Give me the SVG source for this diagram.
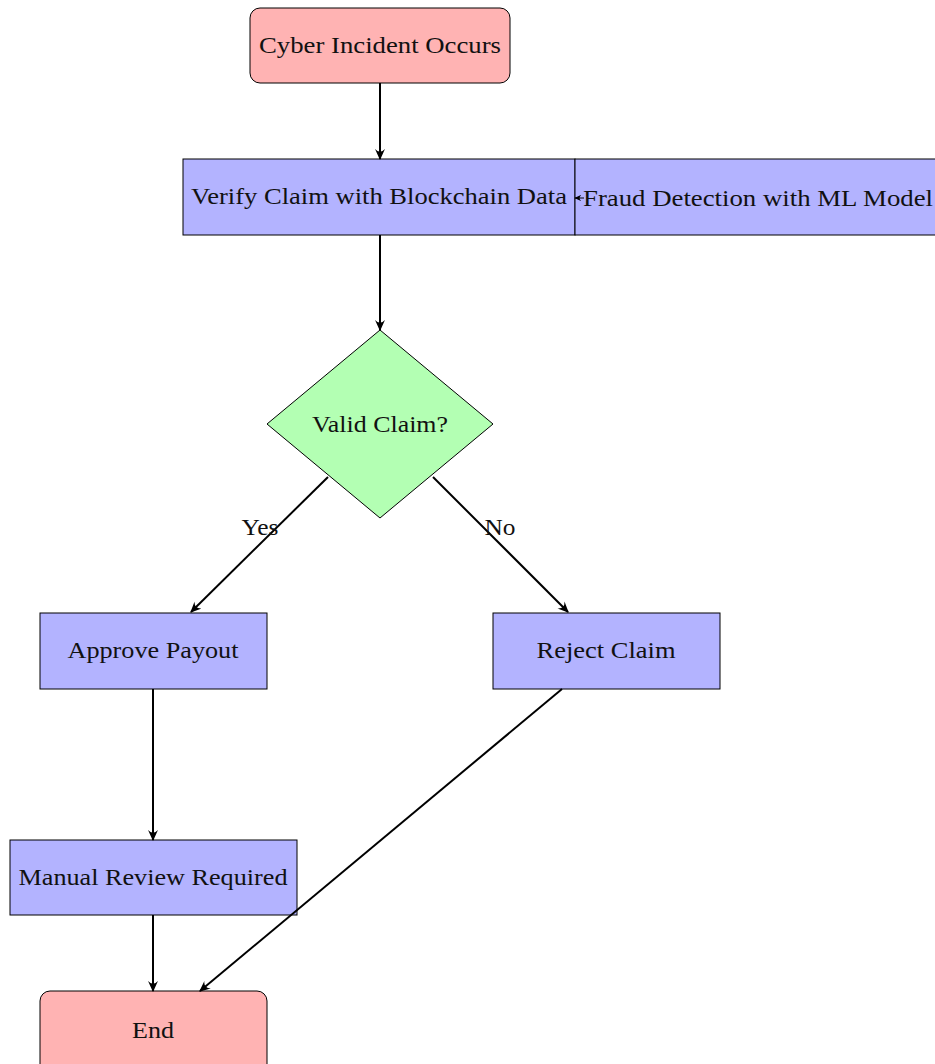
<svg xmlns="http://www.w3.org/2000/svg" width="935" height="1064" viewBox="0 0 935 1064">
<style>
.t{font-family:"Liberation Serif","DejaVu Serif",serif;font-size:23px;fill:#111;text-anchor:middle}
.red{fill:#ffb3b3;stroke:#000;stroke-width:1}
.blue{fill:#b3b3ff;stroke:#000;stroke-width:1}
.green{fill:#b3ffb3;stroke:#000;stroke-width:1}
.c{stroke:#000;stroke-width:2;fill:none;marker-end:url(#ah)}
</style>
<defs>
<marker id="ah" viewBox="0 0 10 10" refX="9" refY="5" markerWidth="11" markerHeight="11" markerUnits="userSpaceOnUse" orient="auto">
<path d="M0,0.5 Q5,5 0,9.5 L10,5 Z" fill="#000"/>
</marker>
<marker id="ah2" viewBox="0 0 10 10" refX="9" refY="5" markerWidth="7" markerHeight="7" markerUnits="userSpaceOnUse" orient="auto">
<path d="M0,0.5 Q5,5 0,9.5 L10,5 Z" fill="#000"/>
</marker>
</defs>
<g id="cyber"><rect class="red" x="250" y="8" width="260" height="75" rx="10"/><text class="t" x="380" y="53" textLength="242" lengthAdjust="spacingAndGlyphs">Cyber Incident Occurs</text></g>
<g id="verify"><rect class="blue" x="183" y="159" width="392" height="76"/><text class="t" x="379" y="204" textLength="376" lengthAdjust="spacingAndGlyphs">Verify Claim with Blockchain Data</text></g>
<g id="fraud"><rect class="blue" x="575" y="159" width="364" height="76"/><text class="t" x="758" y="206" textLength="350" lengthAdjust="spacingAndGlyphs">Fraud Detection with ML Model</text></g>
<g id="valid"><polygon class="green" points="380,330 493,424 380,518 267,424"/><text class="t" x="380" y="432" textLength="136" lengthAdjust="spacingAndGlyphs">Valid Claim?</text></g>
<g id="approve"><rect class="blue" x="40" y="613" width="227" height="76"/><text class="t" x="153" y="658" textLength="171" lengthAdjust="spacingAndGlyphs">Approve Payout</text></g>
<g id="reject"><rect class="blue" x="493" y="613" width="227" height="76"/><text class="t" x="606" y="658" textLength="139" lengthAdjust="spacingAndGlyphs">Reject Claim</text></g>
<g id="manual"><rect class="blue" x="10" y="840" width="287" height="75"/><text class="t" x="153" y="885" textLength="269" lengthAdjust="spacingAndGlyphs">Manual Review Required</text></g>
<g id="end"><rect class="red" x="40" y="991" width="227" height="85" rx="10"/><text class="t" x="153" y="1038" textLength="42" lengthAdjust="spacingAndGlyphs">End</text></g>
<g id="connectors">
<path class="c" d="M380,83 L380,159"/>
<path class="c" d="M380,235 L380,330"/>
<path d="M584,198 L575,198" stroke="#000" stroke-width="1" marker-end="url(#ah2)"/>
<path class="c" d="M328,477 L191,612"/>
<path class="c" d="M433,477 L568,612"/>
<path class="c" d="M153,689 L153,840"/>
<path class="c" d="M562,689 L200,991"/>
<path class="c" d="M153,915 L153,991"/>
<text class="t" x="260" y="535" textLength="37" lengthAdjust="spacingAndGlyphs">Yes</text>
<text class="t" x="500" y="535" textLength="31" lengthAdjust="spacingAndGlyphs">No</text>
</g>
</svg>
